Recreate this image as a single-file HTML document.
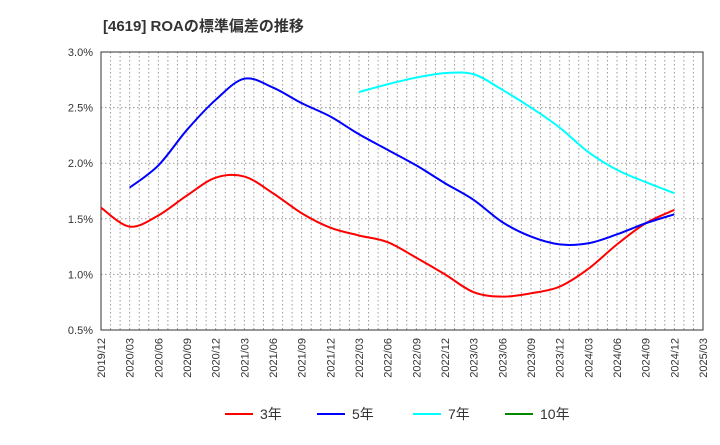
<!DOCTYPE html>
<html><head><meta charset="utf-8"><style>
body{margin:0;background:#fff;font-family:"Liberation Sans","Noto Sans CJK JP",sans-serif}
</style></head><body>
<svg id="c" width="720" height="440" xmlns="http://www.w3.org/2000/svg">
<text x="103" y="31" font-size="15" font-weight="bold" fill="#333" font-family="Liberation Sans, Noto Sans CJK JP, sans-serif">[4619]  ROAの標準偏差の推移</text>
</svg>
<script>
const xLabels=["2019/12","2020/03","2020/06","2020/09","2020/12","2021/03","2021/06","2021/09","2021/12","2022/03","2022/06","2022/09","2022/12","2023/03","2023/06","2023/09","2023/12","2024/03","2024/06","2024/09","2024/12","2025/03"];
const yTicks=[0.5,1.0,1.5,2.0,2.5,3.0];
const s3=[1.60,1.43,1.53,1.71,1.87,1.88,1.73,1.55,1.42,1.35,1.29,1.15,1.00,0.84,0.80,0.83,0.89,1.05,1.27,1.46,1.58];
const s5=[null,1.78,1.98,2.30,2.57,2.76,2.68,2.54,2.42,2.26,2.12,1.98,1.82,1.67,1.47,1.34,1.27,1.28,1.36,1.46,1.54];
const s7=[null,null,null,null,null,null,null,null,null,2.64,2.71,2.77,2.81,2.80,2.66,2.50,2.32,2.10,1.94,1.83,1.73];
const s10=[];
const svg=document.getElementById('c'),NS="http://www.w3.org/2000/svg";
const L=101,R=703,T=52,B=330;
const xq=i=>L+i*(R-L)/21;
const y=v=>T+(3.0-v)/2.5*(B-T);
function mk(t,a,p){const e=document.createElementNS(NS,t);for(const k in a)e.setAttribute(k,a[k]);(p||svg).appendChild(e);return e;}
// grid
for(let m=1;m<63;m++){const x=L+m*(R-L)/63;const g=mk('line',{x1:x,x2:x,y1:T,y2:B,stroke:'#999','stroke-dasharray':'1.5,2.5','stroke-width':1});

}
yTicks.forEach(v=>{const g=mk('line',{x1:L,x2:R,y1:y(v),y2:y(v),stroke:'#999','stroke-dasharray':'1.5,2.5'});


const t=mk('text',{x:93,y:y(v)+4,'text-anchor':'end','font-size':11,fill:'#333'});t.textContent=v.toFixed(1)+'%';

});
const fr=mk('rect',{x:L,y:T,width:R-L,height:B-T,fill:'none',stroke:'#333'});


xLabels.forEach((s,i)=>{const x=xq(i)+4;const t=mk('text',{x:x,y:338,'text-anchor':'end','font-size':11,fill:'#333',transform:`rotate(-90 ${x} 338)`});t.textContent=s;

});
function path(arr){const p=[];arr.forEach((v,i)=>{if(v!=null)p.push([xq(i),y(v)]);});if(p.length<2)return '';
let d=`M${p[0][0]},${p[0][1]}`;for(let i=0;i<p.length-1;i++){const p0=p[i-1]||p[i],p1=p[i],p2=p[i+1],p3=p[i+2]||p2;
d+=` C${p1[0]+(p2[0]-p0[0])/6},${p1[1]+(p2[1]-p0[1])/6} ${p2[0]-(p3[0]-p1[0])/6},${p2[1]-(p3[1]-p1[1])/6} ${p2[0]},${p2[1]}`;}return d;}
[[s3,'#f00','series-3y'],[s5,'#00f','series-5y'],[s7,'#0ff','series-7y'],[s10,'#080','series-10y']].forEach(([a,c,n])=>{const d=path(a);if(!d)return;
const e=mk('path',{d:d,fill:'none',stroke:c,'stroke-width':2});

});
[['3年','#f00',225],['5年','#00f',317],['7年','#0ff',413],['10年','#080',505]].forEach(([l,c,x])=>{const g=mk('g',{});


mk('line',{x1:x,x2:x+28,y1:414,y2:414,stroke:c,'stroke-width':2},g);
const t=mk('text',{x:x+35,y:419,'font-size':14,fill:'#333'},g);t.textContent=l;});
</script>
</body></html>
